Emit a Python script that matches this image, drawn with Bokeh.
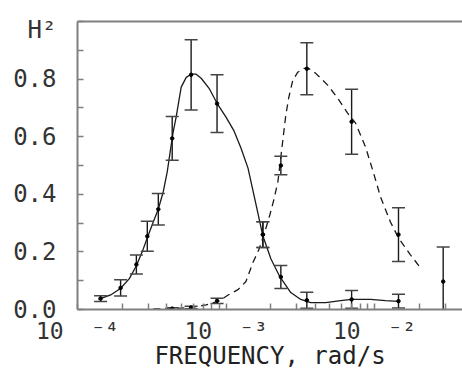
from bokeh.plotting import figure
from bokeh.models import LogAxis, FixedTicker, Range1d
from bokeh.embed import file_html
from bokeh.resources import INLINE

# ---- measured points (frequency in rad/s, H^2, error half-width) ----
solid_freq = [1.43e-4, 1.95e-4, 2.49e-4, 2.95e-4, 3.50e-4, 4.34e-4, 5.82e-4,
              8.70e-4, 1.77e-3, 2.34e-3, 3.50e-3, 7.01e-3, 1.45e-2]
solid_h2 = [0.038, 0.075, 0.156, 0.254, 0.348, 0.594, 0.815,
            0.715, 0.260, 0.113, 0.032, 0.035, 0.029]
solid_err = [0.010, 0.028, 0.033, 0.052, 0.055, 0.076, 0.122,
             0.100, 0.045, 0.040, 0.028, 0.031, 0.024]

dashed_freq = [4.34e-4, 5.82e-4, 8.70e-4, 1.77e-3, 2.34e-3, 3.50e-3,
               7.01e-3, 1.45e-2, 2.90e-2]
dashed_h2 = [0.003, 0.007, 0.030, 0.260, 0.500, 0.836, 0.652, 0.260, 0.097]
dashed_err = [0.003, 0.004, 0.009, 0.045, 0.032, 0.090, 0.113, 0.093, 0.120]

# ---- fitted curves ----
solid_curve_freq = [1.384e-4, 1.690e-4, 1.945e-4, 2.233e-4, 2.49e-4, 2.730e-4,
                    2.95e-4, 3.236e-4, 3.50e-4, 3.776e-4, 4.018e-4, 4.206e-4,
                    4.405e-4, 4.613e-4, 4.989e-4, 5.396e-4, 5.82e-4, 6.295e-4,
                    6.80e-4, 7.69e-4, 8.70e-4, 1.0e-3, 1.132e-3, 1.262e-3,
                    1.406e-3, 1.567e-3, 1.77e-3, 2.004e-3, 2.303e-3, 2.728e-3,
                    3.187e-3, 3.72e-3, 4.69e-3, 5.91e-3, 7.01e-3, 9.40e-3,
                    1.186e-2, 1.45e-2]
solid_curve_h2 = [0.035, 0.052, 0.073, 0.107, 0.152, 0.201,
                  0.249, 0.304, 0.349, 0.408, 0.478, 0.547,
                  0.616, 0.668, 0.772, 0.806, 0.817, 0.817,
                  0.803, 0.768, 0.716, 0.668, 0.620, 0.560,
                  0.491, 0.381, 0.256, 0.176, 0.114, 0.059,
                  0.035, 0.024, 0.024, 0.031, 0.035, 0.035,
                  0.031, 0.028]

dashed_curve_freq = [3.24e-4, 4.27e-4, 5.82e-4, 7.35e-4, 8.83e-4, 1.047e-3,
                     1.204e-3, 1.361e-3, 1.517e-3, 1.665e-3, 1.827e-3, 1.974e-3,
                     2.099e-3, 2.234e-3, 2.339e-3, 2.449e-3, 2.528e-3, 2.647e-3,
                     2.816e-3, 3.042e-3, 3.338e-3, 3.606e-3, 4.018e-3, 4.836e-3,
                     5.648e-3, 6.59e-3, 7.457e-3, 8.70e-3, 9.85e-3, 1.097e-2,
                     1.280e-2, 1.449e-2, 1.745e-2, 2.036e-2]
dashed_curve_h2 = [0.002, 0.003, 0.007, 0.016, 0.028, 0.052,
                   0.069, 0.097, 0.163, 0.208, 0.270, 0.329,
                   0.381, 0.443, 0.529, 0.616, 0.675, 0.737,
                   0.796, 0.824, 0.837, 0.837, 0.820, 0.779,
                   0.734, 0.682, 0.647, 0.564, 0.474, 0.391,
                   0.304, 0.249, 0.190, 0.145]

# ---- axes ----
x_major = [1e-4, 1e-3, 1e-2]
x_mult = [2, 3, 4, 5, 6, 7, 8, 9]
x_labels = {1e-4: "10\u00a0\u00a0\u207b\u2074",
            1e-3: "10\u00a0\u00a0\u207b\u00b3",
            1e-2: "10\u00a0\u00a0\u207b\u00b2"}
y_ticks = [0.0, 0.1, 0.2, 0.3, 0.4, 0.5, 0.6, 0.7, 0.8, 0.9, 1.0]
y_labels = {0.0: "0.0", 0.2: "0.2", 0.4: "0.4", 0.6: "0.6", 0.8: "0.8",
            0.97: "H\u00b2"}
x_title = "FREQUENCY, rad/s"

FONT = "DejaVu Sans Mono"
AX = "#808080"
INK = "#1a1a1a"

p = figure(width=462, height=372, x_axis_type="log",
           x_range=Range1d(0.9995e-4, 3.912e-2), y_range=Range1d(0.0, 1.0),
           output_backend="svg", toolbar_location=None,
           min_border_left=77, min_border_right=0,
           min_border_top=21, min_border_bottom=62)
p.outline_line_color = None
p.grid.visible = False
p.background_fill_color = "white"
p.border_fill_color = "white"

# curves
p.line(solid_curve_freq, solid_curve_h2, line_color=INK, line_width=1.3)
p.line(dashed_curve_freq, dashed_curve_h2, line_color=INK, line_width=1.3,
       line_dash="7 5")

# error bars and points
for fr, hv, er in [(solid_freq, solid_h2, solid_err),
                   (dashed_freq, dashed_h2, dashed_err)]:
    up = [h + e for h, e in zip(hv, er)]
    lo = [h - e for h, e in zip(hv, er)]
    p.segment(x0=fr, y0=lo, x1=fr, y1=up, line_color=INK, line_width=1.4)
    p.scatter(fr, up, marker="dash", size=13, line_color="#444444", line_width=1.5)
    p.scatter(fr, lo, marker="dash", size=13, line_color="#444444", line_width=1.5)
    p.scatter(fr, hv, marker="circle", size=3.5, fill_color="black",
              line_color="black")

# bottom axis
xa = p.below[0]
minor = [m * d for d in x_major for m in x_mult]
xa.ticker = FixedTicker(ticks=x_major, minor_ticks=minor)
xa.major_label_overrides = x_labels
xa.axis_line_color = AX
xa.axis_line_width = 2
xa.major_tick_in = 6
xa.major_tick_out = 0
xa.minor_tick_in = 6
xa.minor_tick_out = 0
xa.major_tick_line_color = AX
xa.minor_tick_line_color = AX
xa.major_tick_line_width = 1.5
xa.minor_tick_line_width = 1.5
xa.major_label_text_font = FONT
xa.major_label_text_font_size = "23px"
xa.major_label_text_color = "#333333"
xa.major_label_standoff = 8
xa.axis_label = x_title
xa.axis_label_text_font = FONT
xa.axis_label_text_font_size = "24px"
xa.axis_label_text_font_style = "normal"
xa.axis_label_text_color = "#222222"
xa.axis_label_standoff = -5

# left axis: labelled ticks carry no mark, every visible mark is a minor tick
ya = p.left[0]
ya.ticker = FixedTicker(ticks=list(y_labels.keys()), minor_ticks=y_ticks)
ya.major_label_overrides = y_labels
ya.axis_line_color = AX
ya.axis_line_width = 2
ya.major_tick_in = 0
ya.major_tick_out = 0
ya.minor_tick_in = 6
ya.minor_tick_out = 0
ya.minor_tick_line_color = AX
ya.minor_tick_line_width = 1.5
ya.major_label_text_font = FONT
ya.major_label_text_font_size = "24px"
ya.major_label_text_color = "#333333"
ya.major_label_standoff = 21

# top frame line
top = LogAxis(ticker=FixedTicker(ticks=[]), axis_line_color=AX, axis_line_width=2,
              major_tick_in=0, major_tick_out=0, minor_tick_in=0, minor_tick_out=0,
              major_label_text_font_size="0px", major_label_standoff=0)
p.add_layout(top, "above")

open("out.html", "w").write(file_html(p, INLINE))
